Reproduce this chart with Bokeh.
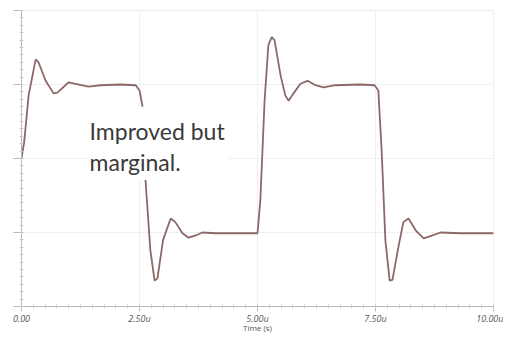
from bokeh.plotting import figure
from bokeh.models import Label, Range1d, FixedTicker, CustomJSTickFormatter
from bokeh.embed import file_html
from bokeh.resources import INLINE

# Time in microseconds, signal in arbitrary units (low=1, mid=2, high=3)
time_us = [0.0, 0.06, 0.15, 0.30, 0.36, 0.51, 0.68, 0.76, 1.00, 1.14, 1.42, 1.67, 2.10, 2.42,
           2.50, 2.56, 2.63, 2.73, 2.82, 2.88, 3.00, 3.16, 3.26, 3.41, 3.54, 3.69, 3.83, 4.11,
           4.64, 5.00, 5.06, 5.15, 5.23, 5.30, 5.36, 5.49, 5.59, 5.66, 5.74, 5.91, 6.06, 6.23,
           6.40, 6.65, 7.18, 7.48, 7.56, 7.63, 7.71, 7.80, 7.86, 7.99, 8.09, 8.20, 8.35, 8.52,
           8.66, 8.88, 9.30, 10.0]
signal = [2.00, 2.24, 2.85, 3.34, 3.30, 3.05, 2.88, 2.89, 3.03, 3.01, 2.97, 2.99, 3.00, 2.99,
          2.92, 2.72, 1.68, 0.76, 0.35, 0.38, 0.90, 1.19, 1.14, 0.99, 0.93, 0.96, 1.00, 0.99,
          0.99, 0.99, 1.43, 2.78, 3.53, 3.64, 3.60, 3.12, 2.85, 2.78, 2.86, 3.01, 3.05, 2.99,
          2.96, 2.99, 3.00, 2.99, 2.92, 2.11, 0.89, 0.35, 0.36, 0.82, 1.14, 1.19, 1.03, 0.92,
          0.95, 1.00, 0.99, 0.99]

x_ticks = [0, 2.5, 5, 7.5, 10]
x_tick_labels = ["0.00", "2.50u", "5.00u", "7.50u", "10.00u"]
y_ticks = [0, 1, 2, 3, 4]
x_title = "Time (s)"
note = "Improved but\nmarginal."

p = figure(width=503, height=335, output_backend="svg", toolbar_location=None,
           x_range=Range1d(0, 10), y_range=Range1d(0, 4),
           min_border_left=21, min_border_right=10, min_border_top=10, min_border_bottom=29)
p.background_fill_color = "white"
p.border_fill_color = "white"
p.outline_line_color = "#eeeeee"

p.line(time_us, signal, line_color="#8c6868", line_width=1.8)

# x axis
p.xaxis.ticker = FixedTicker(ticks=x_ticks, minor_ticks=[i * 0.25 for i in range(41)])
p.xaxis.major_label_overrides = {t: l for t, l in zip(x_ticks, x_tick_labels)}
p.xaxis.major_label_text_font = "Open Sans"
p.xaxis.major_label_text_font_style = "italic"
p.xaxis.major_label_text_font_size = "9px"
p.xaxis.major_label_text_color = "#555555"
p.xaxis.major_label_standoff = 0
p.xaxis.axis_label = x_title
p.xaxis.axis_label_text_font = "Open Sans"
p.xaxis.axis_label_text_font_style = "normal"
p.xaxis.axis_label_text_font_size = "8px"
p.xaxis.axis_label_text_color = "#555555"
p.xaxis.axis_label_standoff = -6
p.xaxis.axis_line_color = "#b8b8b8"
p.xaxis.major_tick_line_color = "#b8b8b8"
p.xaxis.minor_tick_line_color = "#c8c8c8"
p.xaxis.major_tick_out = 5
p.xaxis.major_tick_in = 0
p.xaxis.minor_tick_out = 2
p.xaxis.minor_tick_in = 2

# y axis (no labels)
p.yaxis.ticker = FixedTicker(ticks=y_ticks, minor_ticks=[i * 0.1 for i in range(41)])
p.yaxis.formatter = CustomJSTickFormatter(code="return '';")
p.yaxis.major_label_text_font_size = "1px"
p.yaxis.axis_line_color = "#b8b8b8"
p.yaxis.major_tick_line_color = "#b8b8b8"
p.yaxis.minor_tick_line_color = "#c8c8c8"
p.yaxis.major_tick_out = 8
p.yaxis.major_tick_in = 0
p.yaxis.minor_tick_out = 2
p.yaxis.minor_tick_in = 2
p.yaxis.major_label_standoff = 0

p.xgrid.grid_line_color = "#f0f0f0"
p.ygrid.grid_line_color = "#f0f0f0"

lbl = Label(x=1.40, y=2.70, text=note, text_font="Lato", text_font_size="23px",
            text_color="#3a3a3a", text_align="left", text_baseline="top",
            text_line_height=1.12,
            background_fill_color="white", background_fill_alpha=1.0,
            padding=(2, 3, 10, 4))
p.add_layout(lbl)

open("out.html", "w").write(file_html(p, INLINE))
